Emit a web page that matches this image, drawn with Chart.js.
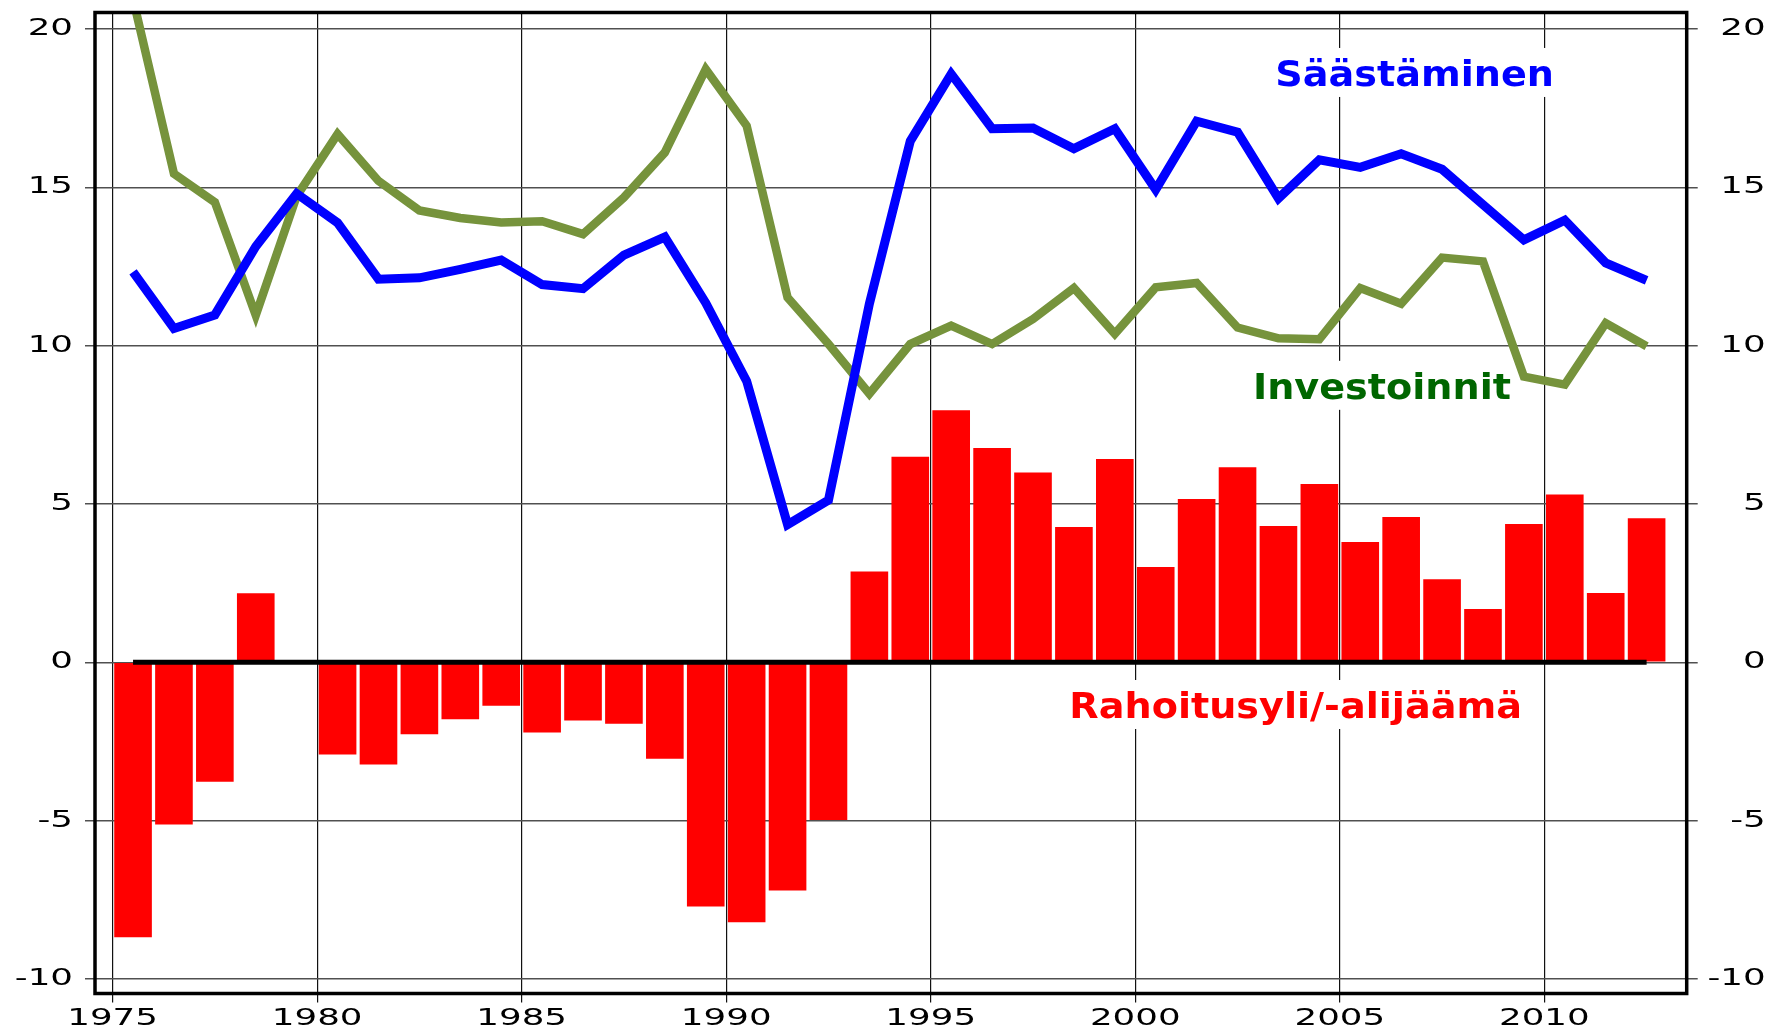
<!DOCTYPE html>
<html lang="fi">
<head>
<meta charset="UTF-8">
<title>Säästäminen, investoinnit ja rahoitusyli/-alijäämä</title>
<script src="https://cdn.jsdelivr.net/npm/chart.js"></script>
<style>
 html, body { margin: 0; padding: 0; background: #fff; }
 canvas { display: block; }
</style>
</head>
<body>
<canvas id="myChart" width="1776" height="1033"></canvas>
<script>
// years of the series (each value is drawn in the middle of its year)
const years = [1975, 1976, 1977, 1978, 1979, 1980, 1981, 1982, 1983, 1984,
 1985, 1986, 1987, 1988, 1989, 1990, 1991, 1992, 1993, 1994,
 1995, 1996, 1997, 1998, 1999, 2000, 2001, 2002, 2003, 2004,
 2005, 2006, 2007, 2008, 2009, 2010, 2011, 2012];

// Säästäminen (blue line)
const saving = [12.33, 10.54, 10.97, 13.13, 14.8, 13.88, 12.1, 12.14, 12.41, 12.7,
 11.93, 11.8, 12.86, 13.43, 11.35, 8.88, 4.35, 5.12, 11.32, 16.46,
 18.58, 16.85, 16.87, 16.22, 16.85, 14.93, 17.09, 16.74, 14.65, 15.87,
 15.63, 16.06, 15.57, 14.45, 13.34, 13.96, 12.61, 12.06];

// Investoinnit (green line)
const investment = [20.95, 15.43, 14.53, 10.96, 14.72, 16.68, 15.2, 14.27, 14.03, 13.89,
 13.93, 13.52, 14.68, 16.1, 18.73, 16.94, 11.52, 10.05, 8.48, 10.05,
 10.63, 10.05, 10.84, 11.82, 10.37, 11.84, 11.98, 10.57, 10.23, 10.2,
 11.82, 11.32, 12.78, 12.66, 9.02, 8.77, 10.71, 9.98];

// Rahoitusyli/-alijäämä (red bars)
const balance = [-8.68, -5.12, -3.77, 2.18, 0.05, -2.91, -3.23, -2.27, -1.8, -1.37,
 -2.22, -1.84, -1.94, -3.05, -7.71, -8.21, -7.21, -4.98, 2.87, 6.49,
 7.96, 6.77, 5.99, 4.27, 6.42, 3.01, 5.16, 6.16, 4.3, 5.63,
 3.8, 4.59, 2.62, 1.68, 4.37, 5.3, 2.19, 4.55];

const xTicks = [1975, 1980, 1985, 1990, 1995, 2000, 2005, 2010];
const yTicks = [-10, -5, 0, 5, 10, 15, 20];

// series labels written inside the plot (x = year, y = baseline value)
const seriesLabels = [
 { text: 'Säästäminen', x: 2006.83, y: 18.2, color: '#0000ff' },
 { text: 'Investoinnit', x: 2006.03, y: 8.32, color: '#006600' },
 { text: 'Rahoitusyli/-alijäämä', x: 2003.92, y: -1.76, color: '#ff0000' }
];

const toPoints = (vals) => years.map((yr, i) => ({ x: yr + 0.5, y: vals[i] }));

// wide lettering like the original: draw text stretched horizontally
function wideText(ctx, text, px, py, align, stretch) {
 ctx.save();
 ctx.translate(px, py);
 ctx.scale(stretch, 1);
 ctx.textAlign = align;
 ctx.fillText(text, 0, 0);
 ctx.restore();
}

const decorations = {
 id: 'decorations',
 beforeDatasetsDraw(chart) {
 const { ctx, scales: { x, y } } = chart;
 ctx.save();
 ctx.font = 'bold 36px "DejaVu Sans"';
 ctx.textBaseline = 'alphabetic';
 seriesLabels.forEach(l => {
 const w = ctx.measureText(l.text).width * 1.06;
 const px = x.getPixelForValue(l.x);
 const py = y.getPixelForValue(l.y);
 ctx.fillStyle = '#fff';
 ctx.fillRect(px - w / 2 - 8, py - 38, w + 16, 49);
 ctx.fillStyle = l.color;
 wideText(ctx, l.text, px, py, 'center', 1.06);
 });
 ctx.restore();
 },
 afterDatasetsDraw(chart) {
 const { ctx, chartArea: a } = chart;
 ctx.save();
 ctx.strokeStyle = '#000';
 ctx.lineWidth = 3.5;
 ctx.strokeRect(a.left, a.top, a.right - a.left, a.bottom - a.top);
 ctx.restore();
 },
 afterDraw(chart) {
 const { ctx, chartArea: a, scales: { x, y } } = chart;
 ctx.save();
 ctx.font = '23px "DejaVu Sans"';
 ctx.fillStyle = '#000';
 ctx.textBaseline = 'middle';
 y.ticks.forEach(t => {
 const py = y.getPixelForValue(t.value);
 wideText(ctx, String(t.value), a.left - 22, py, 'right', 1.55);
 wideText(ctx, String(t.value), a.right + 79, py, 'right', 1.55);
 });
 x.ticks.forEach(t => {
 wideText(ctx, String(t.value), x.getPixelForValue(t.value), a.bottom + 25.5, 'center', 1.55);
 });
 ctx.restore();
 }
};

const ctx = document.getElementById('myChart').getContext('2d');
const myChart = new Chart(ctx, {
 data: {
 datasets: [
 {
 type: 'line',
 label: 'nolla',
 data: toPoints(years.map(() => 0)),
 borderColor: '#000',
 borderWidth: 5,
 pointRadius: 0,
 order: 0
 },
 {
 type: 'line',
 label: 'Säästäminen',
 data: toPoints(saving),
 borderColor: '#0000ff',
 borderWidth: 9,
 borderJoinStyle: 'miter',
 pointRadius: 0,
 tension: 0,
 order: 1
 },
 {
 type: 'line',
 label: 'Investoinnit',
 data: toPoints(investment),
 borderColor: '#76933c',
 borderWidth: 8.5,
 borderJoinStyle: 'miter',
 pointRadius: 0,
 tension: 0,
 order: 2
 },
 {
 type: 'bar',
 label: 'Rahoitusyli/-alijäämä',
 data: toPoints(balance),
 backgroundColor: '#ff0000',
 borderWidth: 0,
 barPercentage: 0.92,
 categoryPercentage: 1,
 order: 3
 }
 ]
 },
 options: {
 responsive: false,
 animation: false,
 layout: { padding: { top: 12.5, left: 0, right: 0, bottom: 0 } },
 plugins: { legend: { display: false }, tooltip: { enabled: false } },
 scales: {
 x: {
 type: 'linear',
 position: 'bottom',
 offset: false,
 min: 1974.57,
 max: 2013.48,
 afterBuildTicks: (s) => { s.ticks = xTicks.map(v => ({ value: v })); },
 afterFit: (s) => { s.height = 39.5; },
 ticks: { display: false },
 border: { display: false },
 grid: { offset: false, color: '#111', lineWidth: 1.2, tickLength: 9 }
 },
 y: {
 type: 'linear',
 position: 'left',
 min: -10.46,
 max: 20.52,
 afterBuildTicks: (s) => { s.ticks = yTicks.map(v => ({ value: v })); },
 afterFit: (s) => { s.width = 95; },
 ticks: { display: false },
 border: { display: false },
 grid: { color: '#505050', lineWidth: 1.5, tickLength: 10 }
 },
 y2: {
 type: 'linear',
 position: 'right',
 min: -10.46,
 max: 20.52,
 afterBuildTicks: (s) => { s.ticks = yTicks.map(v => ({ value: v })); },
 afterFit: (s) => { s.width = 89.3; },
 ticks: { display: false },
 border: { display: false },
 grid: { drawOnChartArea: false, color: '#505050', lineWidth: 1.5, tickLength: 11 }
 }
 }
 },
 plugins: [decorations]
});
</script>
</body>
</html>
